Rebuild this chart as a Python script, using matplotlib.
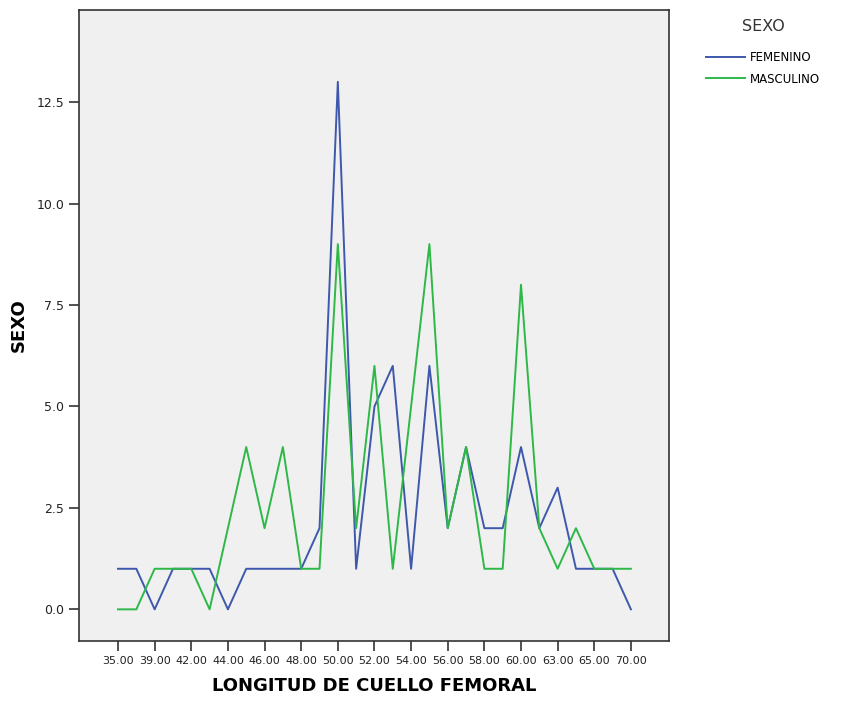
import numpy as np
import matplotlib
matplotlib.use("Agg")
import matplotlib.pyplot as plt

# longitud de cuello femoral (categories); only every other one gets a label
categories = ["35.00", "38.00", "39.00", "40.00", "42.00", "43.00", "44.00", "45.00",
              "46.00", "47.00", "48.00", "49.00", "50.00", "51.00", "52.00", "53.00",
              "54.00", "55.00", "56.00", "57.00", "58.00", "59.00", "60.00", "62.00",
              "63.00", "64.00", "65.00", "68.00", "70.00"]

femenino = [1, 1, 0, 1, 1, 1, 0, 1, 1, 1, 1, 2, 13, 1, 5, 6,
            1, 6, 2, 4, 2, 2, 4, 2, 3, 1, 1, 1, 0]
masculino = [0, 0, 1, 1, 1, 0, 2, 4, 2, 4, 1, 1, 9, 2, 6, 1,
             5, 9, 2, 4, 1, 1, 8, 2, 1, 2, 1, 1, 1]

y_ticks = [0.0, 2.5, 5.0, 7.5, 10.0, 12.5]

fig = plt.figure(figsize=(8.46, 7.01), dpi=100)
ax = fig.add_axes([79 / 846, 1 - 641 / 701, (669 - 79) / 846, (641 - 10) / 701])
ax.set_facecolor("#f0f0f0")

x = np.arange(len(categories))
ax.plot(x, femenino, color="#3e58ac", lw=1.4, label="FEMENINO")
ax.plot(x, masculino, color="#2eb848", lw=1.4, label="MASCULINO")

ax.set_xlim(-2.13, 30.08)
ax.set_ylim(-0.78, 14.77)

ax.set_xticks(x[::2])
ax.set_xticklabels(categories[::2], fontsize=8, color="#222222")
ax.set_yticks(y_ticks)
ax.set_yticklabels([f"{v:.1f}" for v in y_ticks], fontsize=9, color="#222222")
ax.tick_params(axis="both", length=7, width=1.2, color="#333333")

for s in ax.spines.values():
    s.set_color("#333333")
    s.set_linewidth(1.2)

ax.set_xlabel("LONGITUD DE CUELLO FEMORAL", fontsize=13, fontweight="bold", labelpad=8)
ax.set_ylabel("SEXO", fontsize=13, fontweight="bold", labelpad=6)

leg = fig.legend(loc="upper left", bbox_to_anchor=(706 / 846, 1 - 19 / 701),
                 title="SEXO", frameon=False, fontsize=8.5, title_fontsize=11.5,
                 handlelength=3.3, handletextpad=0.4, labelspacing=0.75,
                 borderpad=0, borderaxespad=0)
leg._legend_box.align = "center"
leg._legend_box.sep = 12
leg.get_title().set_color("#333333")

fig.savefig("out.png", dpi=100)
